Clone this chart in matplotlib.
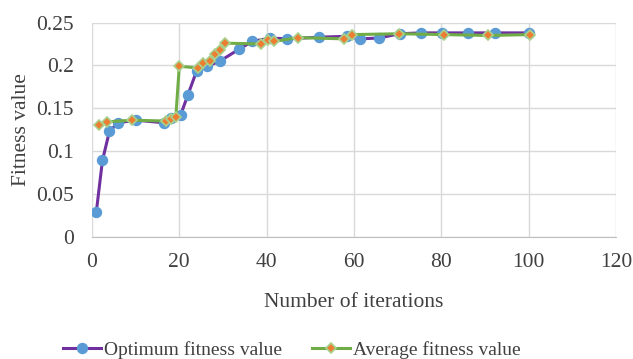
import matplotlib
matplotlib.use('Agg')
import matplotlib.pyplot as plt

# ======= Data =======
opt_x = [1, 2.4, 4, 6, 10, 16.5, 18, 20.3, 22, 24, 26.3, 29.3, 33.7, 36.7,
         40.8, 44.7, 52, 58.3, 61.4, 65.7, 70.5, 75.3, 80.1, 86.2, 92.3, 100]
opt_y = [0.029, 0.089, 0.123, 0.133, 0.136, 0.133, 0.138, 0.142, 0.166, 0.194,
         0.199, 0.205, 0.219, 0.228, 0.232, 0.231, 0.233, 0.234, 0.231, 0.232,
         0.237, 0.238, 0.238, 0.238, 0.238, 0.238]

avg_x = [1.6, 3.4, 9.1, 16.9, 18.1, 19.2, 20, 24.3, 25.5, 27, 28.2, 29.3, 30.5,
         38.8, 40.3, 41.7, 47.3, 57.7, 59.5, 70.4, 80.7, 90.8, 100.3]
avg_y = [0.130, 0.134, 0.136, 0.135, 0.137, 0.1395, 0.199, 0.197, 0.203, 0.2055,
         0.213, 0.218, 0.226, 0.225, 0.230, 0.228, 0.2325, 0.231, 0.236, 0.237,
         0.236, 0.235, 0.236]

x_ticks = [0, 20, 40, 60, 80, 100, 120]
y_ticks = [0, 0.05, 0.1, 0.15, 0.2, 0.25]
y_labels = ['0', '0.05', '0.1', '0.15', '0.2', '0.25']

plt.rcParams['font.family'] = ['Liberation Serif', 'DejaVu Serif']

fig = plt.figure(figsize=(6.33, 3.59), dpi=100, facecolor='white')
ax = fig.add_axes([0.1453, 0.341, 0.973 - 0.1453, 0.937 - 0.341])

ax.plot(opt_x, opt_y, color='#7030A0', lw=2.2, marker='o', markersize=7.2,
        markerfacecolor='#5B9BD5', markeredgecolor='#5B9BD5',
        label='Optimum fitness value', zorder=3)
ax.plot(avg_x, avg_y, color='#70AD47', lw=2.2, marker='D', markersize=5,
        markerfacecolor='#ED7D31', markeredgecolor='#A9D18E', markeredgewidth=1.2,
        label='Average fitness value', zorder=4)

ax.set_xlim(0, 120)
ax.set_ylim(0, 0.25)
ax.set_xticks(x_ticks)
ax.set_yticks(y_ticks)
ax.set_yticklabels(y_labels)
ax.tick_params(axis='y', length=0, labelsize=15.5, colors='#404040', pad=13)
ax.tick_params(axis='x', length=0, labelsize=15.5, colors='#404040', pad=12)
ax.grid(True, color='#d9d9d9', lw=1)
ax.set_axisbelow(True)
for s in ['top', 'right', 'left']:
    ax.spines[s].set_visible(False)
ax.spines['bottom'].set_color('#bfbfbf')

ax.set_xlabel('Number of iterations', fontsize=15.5, color='#404040', labelpad=15)
ax.set_ylabel('Fitness value', fontsize=15.5, color='#404040', labelpad=4)

fig.legend(loc='center', bbox_to_anchor=(0.461, 0.025), ncol=2, frameon=False,
           fontsize=14, handlelength=1.95, columnspacing=1.5, handletextpad=0.2,
           labelcolor='#404040')

fig.savefig('out.png', dpi=100)
